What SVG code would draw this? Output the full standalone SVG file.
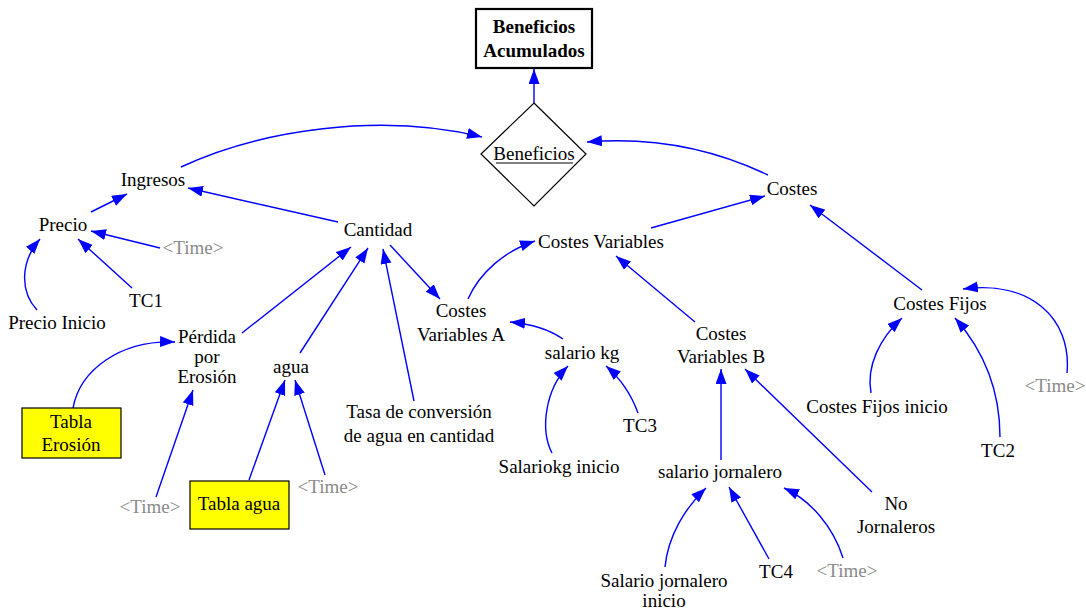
<svg xmlns="http://www.w3.org/2000/svg" width="1086" height="611" viewBox="0 0 1086 611">
<style>
text{font-family:"Liberation Serif","Times New Roman",serif;font-size:19px;fill:#000;text-anchor:middle}
.b{font-weight:bold}
.t{fill:#8a8a8a}
.c path{fill:none;stroke:#0000FF;stroke-width:1.4;marker-end:url(#ah)}
.y{fill:#FFFF00;stroke:#000;stroke-width:1.2}
</style>
<defs>
<marker id="ah" markerUnits="userSpaceOnUse" markerWidth="16" markerHeight="12" refX="15" refY="5.5" orient="auto">
<path d="M0,0 L15,5.5 L0,11 z" fill="#0000FF"/>
</marker>
</defs>
<rect width="1086" height="611" fill="#fff"/>
<g class="c" id="connectors">
<path d="M534,103 L534,69"/>
<path d="M181,167 C260,130 380,112 482,137"/>
<path d="M768,175 C720,152 660,136 587,142"/>
<path d="M91,212 L127,194"/>
<path d="M338,222 L188,188"/>
<path d="M160,248 L91,231"/>
<path d="M132,288 L78,239"/>
<path d="M37,310 C20,292 20,262 40,239"/>
<path d="M242,333 L351,247"/>
<path d="M300,353 L368,248"/>
<path d="M414,401 L383,249"/>
<path d="M390,245 L440,299"/>
<path d="M468,299 C480,272 505,251 535,241"/>
<path d="M651,228 L765,196"/>
<path d="M695,322 L616,256"/>
<path d="M922,290 L810,205"/>
<path d="M563,339 C550,330 532,324 510,322"/>
<path d="M552,453 C540,430 545,390 568,366"/>
<path d="M638,413 C631,394 620,378 606,366"/>
<path d="M721,460 L721,369"/>
<path d="M872,492 L745,369"/>
<path d="M665,567 C668,536 685,508 706,488"/>
<path d="M769,559 L729,487"/>
<path d="M843,558 C833,526 810,500 784,488"/>
<path d="M871,393 C866,366 880,338 902,318"/>
<path d="M1000,437 C1000,392 985,352 955,318"/>
<path d="M1067,373 C1072,318 1030,280 963,289"/>
<path d="M73,408 C80,370 120,340 175,342"/>
<path d="M156,497 L193,390"/>
<path d="M249,480 L285,380"/>
<path d="M325,475 L295,380"/>
</g>
<g id="beneficios-acumulados">
<rect x="476" y="9" width="116" height="59" fill="#fff" stroke="#000" stroke-width="2.2"/>
<text class="b" x="534" y="33">Beneficios</text>
<text class="b" x="534" y="57">Acumulados</text>
</g>
<g id="beneficios">
<path d="M534,103 L586,154 L534,206 L481,154 Z" fill="#fff" stroke="#000" stroke-width="1.2"/>
<text x="534" y="160">Beneficios</text>
<line x1="496" y1="163" x2="573" y2="163" stroke="#000" stroke-width="1.1"/>
</g>
<g id="ingresos"><text x="153" y="186">Ingresos</text></g>
<g id="precio"><text x="63" y="231">Precio</text></g>
<g id="time1"><text class="t" x="193" y="254">&lt;Time&gt;</text></g>
<g id="tc1"><text x="146" y="307">TC1</text></g>
<g id="precio-inicio"><text x="57" y="329">Precio Inicio</text></g>
<g id="cantidad"><text x="378" y="236">Cantidad</text></g>
<g id="perdida"><text x="207" y="343">Pérdida</text><text x="207" y="363">por</text><text x="207" y="383">Erosión</text></g>
<g id="agua"><text x="291" y="373">agua</text></g>
<g id="tabla-erosion">
<rect class="y" x="22" y="408" width="99" height="50"/>
<text x="71" y="428">Tabla</text><text x="71" y="451">Erosión</text>
</g>
<g id="tabla-agua">
<rect class="y" x="190" y="481" width="99" height="48"/>
<text x="239" y="510">Tabla agua</text>
</g>
<g id="time2"><text class="t" x="150" y="513">&lt;Time&gt;</text></g>
<g id="time3"><text class="t" x="328" y="493">&lt;Time&gt;</text></g>
<g id="tasa"><text x="419" y="418">Tasa de conversión</text><text x="419" y="442">de agua en cantidad</text></g>
<g id="costes-variables-a"><text x="461" y="317">Costes</text><text x="461" y="341">Variables A</text></g>
<g id="salario-kg"><text x="582" y="359">salario kg</text></g>
<g id="tc3"><text x="640" y="432">TC3</text></g>
<g id="salariokg-inicio"><text x="559" y="473">Salariokg inicio</text></g>
<g id="costes-variables"><text x="601" y="248">Costes Variables</text></g>
<g id="costes"><text x="792" y="195">Costes</text></g>
<g id="costes-variables-b"><text x="721" y="340">Costes</text><text x="721" y="363">Variables B</text></g>
<g id="salario-jornalero"><text x="720" y="478">salario jornalero</text></g>
<g id="salario-jornalero-inicio"><text x="664" y="587">Salario jornalero</text><text x="664" y="607">inicio</text></g>
<g id="tc4"><text x="776" y="578">TC4</text></g>
<g id="time4"><text class="t" x="847" y="577">&lt;Time&gt;</text></g>
<g id="no-jornaleros"><text x="896" y="510">No</text><text x="896" y="533">Jornaleros</text></g>
<g id="costes-fijos"><text x="940" y="310">Costes Fijos</text></g>
<g id="costes-fijos-inicio"><text x="877" y="413">Costes Fijos inicio</text></g>
<g id="tc2"><text x="998" y="457">TC2</text></g>
<g id="time5"><text class="t" x="1055" y="392">&lt;Time&gt;</text></g>
</svg>
